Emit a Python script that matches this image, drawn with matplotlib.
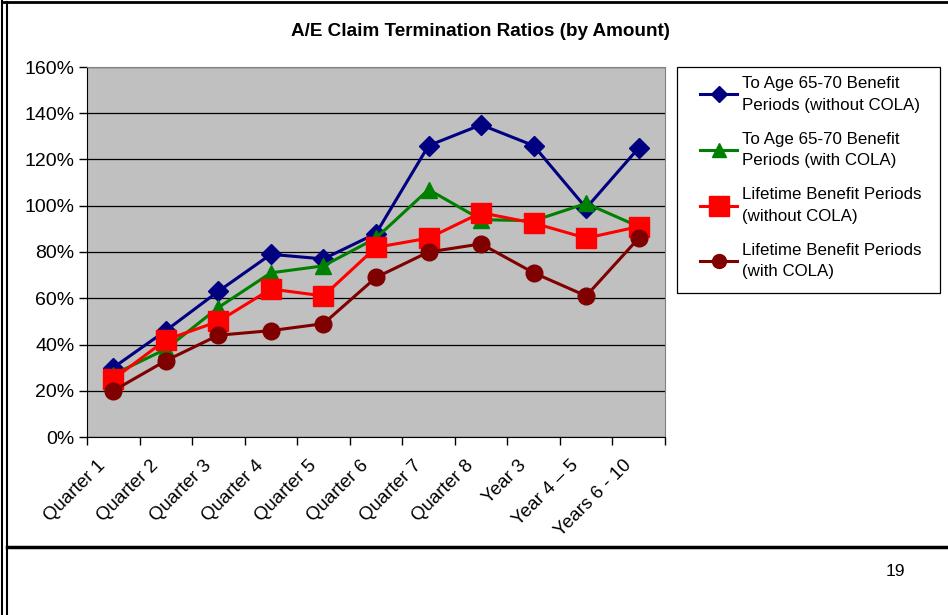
import numpy as np
import matplotlib
matplotlib.use("Agg")
import matplotlib.pyplot as plt
import matplotlib.transforms as mtransforms
from matplotlib.patches import Rectangle
from matplotlib.ticker import FuncFormatter

plt.rcParams["font.family"] = ["Liberation Sans", "DejaVu Sans"]

categories = ["Quarter 1", "Quarter 2", "Quarter 3", "Quarter 4", "Quarter 5",
              "Quarter 6", "Quarter 7", "Quarter 8", "Year 3", "Year 4 \u2013 5",
              "Years 6 - 10"]

# A/E ratios in percent
age_no_cola = [30, 46, 63, 79, 77, 88, 126, 135, 126, 99, 125]
age_cola = [27, 38, 56, 71, 74, 86, 107, 94, 93.5, 101, 91]
life_no_cola = [25, 42, 50, 64, 61, 82, 86, 97, 92.5, 86, 91]
life_cola = [20, 33, 44, 46, 49, 69, 80, 83.5, 71, 61, 86]

series = [
    ("To Age 65-70 Benefit\nPeriods (without COLA)", age_no_cola, "#000080", "D", 10),
    ("To Age 65-70 Benefit\nPeriods (with COLA)", age_cola, "#008000", "^", 12),
    ("Lifetime Benefit Periods\n(without COLA)", life_no_cola, "#FF0000", "s", 14),
    ("Lifetime Benefit Periods\n(with COLA)", life_cola, "#800000", "o", 12),
]

fig = plt.figure(figsize=(9.48, 6.15), dpi=100)
W, H = 948, 615

# plot area in pixels: x 87..665, y 67..437
ax = fig.add_axes([87 / W, 1 - 437 / H, (665 - 87) / W, (437 - 67) / H])
ax.set_facecolor("#C0C0C0")

x = np.arange(len(categories))
for label, vals, color, marker, ms in series:
    ax.plot(x, np.array(vals) / 100, color=color, lw=2.2, marker=marker,
            markersize=ms, markeredgecolor=color, label=label, zorder=3)

ax.set_xlim(-0.5, len(categories) - 0.5)
ax.set_ylim(0, 1.6)
ax.set_yticks(np.arange(0, 1.61, 0.2))
ax.yaxis.set_major_formatter(FuncFormatter(lambda v, p: f"{v * 100:.0f}%"))
ax.grid(True, axis="y", color="black", lw=0.9, zorder=1)
ax.set_axisbelow(True)

# tick marks sit on the category boundaries
ax.set_xticks(np.arange(-0.5, len(categories)))
ax.set_xticklabels([])
ax.tick_params(axis="x", length=6, direction="out", width=1)
ax.tick_params(axis="y", length=6, direction="out", width=1, labelsize=14, pad=3)

# category labels, rotated, slightly left of the category centre
shift = mtransforms.ScaledTranslation(-0.16, -0.20, fig.dpi_scale_trans)
for xi, cat in zip(x, categories):
    ax.text(xi, 0, cat, transform=ax.get_xaxis_transform() + shift,
            rotation=45, ha="right", va="top", rotation_mode="anchor",
            fontsize=13.5)

for side in ["top", "right"]:
    ax.spines[side].set_color("#808080")
for side in ["left", "bottom"]:
    ax.spines[side].set_color("black")

fig.text(480 / W, 1 - 32 / H, "A/E Claim Termination Ratios (by Amount)",
         ha="center", va="center", fontsize=13.6, fontweight="bold")

# legend box drawn separately, entries placed inside it
fig.add_artist(Rectangle((677 / W, 1 - 293 / H), (940 - 677) / W, (293 - 67) / H,
                         transform=fig.transFigure, facecolor="white",
                         edgecolor="black", lw=0.9, zorder=1))
handles, labels = ax.get_legend_handles_labels()
leg = fig.legend(handles, labels, loc="upper left",
                 bbox_to_anchor=(700 / W, 1 - 76 / H),
                 bbox_transform=fig.transFigure, borderaxespad=0, borderpad=0,
                 fontsize=12.2, frameon=False, handlelength=2.2,
                 handletextpad=0.25, labelspacing=1.12)
leg.set_zorder(5)
for t in leg.get_texts():
    t.set_linespacing(1.55)
for h, s in zip(leg.legend_handles, [8, 10, 14, 10]):
    h.set_markersize(s)

fig.text(895 / W, 1 - 571 / H, "19", ha="center", va="center", fontsize=12.5)

# page frame lines
frame = fig.add_axes([0, 0, 1, 1], zorder=-1)
frame.set_xlim(0, W)
frame.set_ylim(H, 0)
frame.axis("off")
frame.plot([2.5, 2.5], [0, H], color="black", lw=1.5)
frame.plot([7, 7], [2, H], color="black", lw=1.5)
frame.plot([2, W], [1.5, 1.5], color="black", lw=2)
frame.plot([7, W], [547, 547], color="black", lw=2.5)

fig.savefig("out.png", dpi=100)
